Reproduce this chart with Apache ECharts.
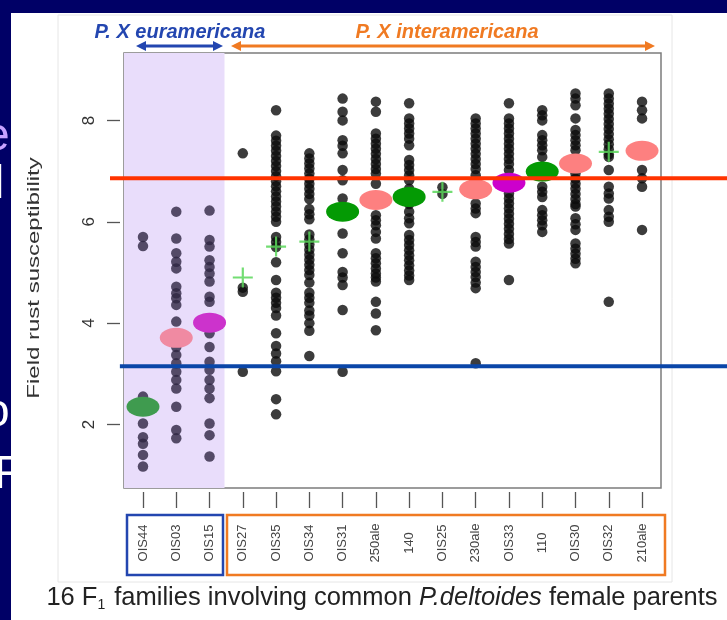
<!DOCTYPE html>
<html><head><meta charset="utf-8">
<script src="https://cdn.jsdelivr.net/npm/echarts@6/dist/echarts.min.js"></script>
<style>html,body{margin:0;padding:0;background:#000066}#c{width:727px;height:620px}</style>
</head><body><div id="c"></div><script>
// ---- data ----
const families = ['OIS44','OIS03','OIS15','OIS27','OIS35','OIS34','OIS31','250ale','140','OIS25','230ale','OIS33','110','OIS30','OIS32','210ale'];
const yTicks = [2, 4, 6, 8];
const scoresOIS44 = [5.70, 5.52, 2.55, 2.35, 2.02, 1.75, 1.62, 1.40, 1.17];
const scoresOIS03 = [6.20, 5.67, 5.38, 5.21, 5.08, 4.72, 4.59, 4.49, 4.36, 4.03, 3.71, 3.53, 3.37, 3.21, 3.04, 2.88, 2.71, 2.35, 1.89, 1.73];
const scoresOIS15 = [6.22, 5.64, 5.51, 5.24, 5.11, 4.98, 4.82, 4.52, 4.42, 4.01, 3.80, 3.53, 3.24, 3.08, 2.88, 2.71, 2.52, 2.02, 1.79, 1.37];
const scoresOIS27 = [7.35, 4.70, 4.62, 3.04];
const scoresOIS35 = [8.20, 7.70, 7.60, 7.50, 7.40, 7.30, 7.20, 7.10, 7.00, 6.90, 6.80, 6.70, 6.60, 6.50, 6.40, 6.30, 6.20, 6.10, 6.00, 5.70, 5.60, 5.50, 5.20, 4.85, 4.60, 4.50, 4.40, 4.30, 4.15, 3.80, 3.55, 3.40, 3.25, 3.05, 2.50, 2.20];
const scoresOIS34 = [7.35, 7.25, 7.15, 7.05, 6.95, 6.85, 6.75, 6.65, 6.55, 6.45, 6.25, 6.15, 6.05, 5.75, 5.65, 5.55, 5.45, 5.35, 5.25, 5.15, 5.05, 4.95, 4.80, 4.60, 4.50, 4.40, 4.25, 4.15, 4.00, 3.85, 3.35];
const scoresOIS31 = [8.43, 8.17, 8.00, 7.61, 7.50, 7.35, 7.02, 6.82, 6.46, 6.20, 5.77, 5.38, 5.01, 4.90, 4.75, 4.26, 3.04];
const scores250ale = [8.37, 8.17, 7.74, 7.64, 7.54, 7.44, 7.34, 7.24, 7.14, 7.04, 6.95, 6.75, 6.43, 6.13, 6.03, 5.93, 5.80, 5.67, 5.38, 5.28, 5.18, 5.08, 4.98, 4.90, 4.82, 4.42, 4.19, 3.86];
const scores140 = [8.34, 8.04, 7.94, 7.84, 7.74, 7.64, 7.51, 7.22, 7.12, 7.02, 6.92, 6.82, 6.65, 6.49, 6.35, 6.20, 6.07, 5.97, 5.74, 5.64, 5.54, 5.44, 5.34, 5.24, 5.14, 5.04, 4.94, 4.85];
const scoresOIS25 = [6.68, 6.55];
const scores230ale = [8.04, 7.94, 7.84, 7.74, 7.64, 7.54, 7.44, 7.34, 7.24, 7.14, 7.04, 6.92, 6.64, 6.36, 6.26, 6.17, 5.70, 5.60, 5.51, 5.21, 5.11, 5.01, 4.91, 4.80, 4.69, 3.21];
const scoresOIS33 = [8.34, 8.04, 7.94, 7.84, 7.74, 7.64, 7.54, 7.44, 7.34, 7.24, 7.14, 7.02, 6.77, 6.56, 6.46, 6.36, 6.26, 6.16, 6.06, 5.96, 5.86, 5.76, 5.66, 5.57, 4.85];
const scores110 = [8.20, 8.10, 8.00, 7.71, 7.61, 7.51, 7.41, 7.28, 6.99, 6.69, 6.59, 6.49, 6.23, 6.13, 6.03, 5.93, 5.80];
const scoresOIS30 = [8.53, 8.43, 8.30, 8.04, 7.81, 7.71, 7.61, 7.51, 7.41, 7.15, 6.95, 6.85, 6.75, 6.65, 6.55, 6.45, 6.35, 6.30, 6.07, 5.95, 5.84, 5.57, 5.47, 5.37, 5.27, 5.18];
const scoresOIS32 = [8.53, 8.43, 8.33, 8.23, 8.13, 8.03, 7.93, 7.83, 7.73, 7.63, 7.53, 7.43, 7.33, 7.28, 7.02, 6.69, 6.56, 6.46, 6.23, 6.10, 6.00, 4.42];
const scores210ale = [8.37, 8.20, 8.04, 7.02, 6.86, 6.69, 5.84];
const meanScores = [2.35, 3.71, 4.01, 4.90, 5.51, 5.61, 6.20, 6.43, 6.49, 6.59, 6.64, 6.77, 6.99, 7.15, 7.38, 7.40];
const meanMarks = ['greenA','pinkA','magentaA','plus','plus','plus','green','pink','green','plus','pink','magenta','green','pink','plus','pink'];
const highThreshold = 6.86;
const lowThreshold = 3.15;
const euramericanaCount = 3;

const allScores = [scoresOIS44, scoresOIS03, scoresOIS15, scoresOIS27, scoresOIS35, scoresOIS34, scoresOIS31, scores250ale,
  scores140, scoresOIS25, scores230ale, scoresOIS33, scores110, scoresOIS30, scoresOIS32, scores210ale];

// ---- build ----
const famIdx = families.map((f, i) => i + 1);
const dotsEur = [], dotsInt = [];
allScores.forEach((arr, i) => arr.forEach(v => (i < euramericanaCount ? dotsEur : dotsInt).push([i + 1, v])));
const markStyles = {
  greenA:   {symbol: 'circle', size: [33, 20], color: '#3f9b4f'},
  pinkA:    {symbol: 'circle', size: [33, 20], color: '#f08aa2'},
  magentaA: {symbol: 'circle', size: [33, 20], color: '#cc33cc'},
  green:    {symbol: 'circle', size: [33, 20], color: '#049a04'},
  pink:     {symbol: 'circle', size: [33, 20], color: '#fd8080'},
  magenta:  {symbol: 'circle', size: [33, 20], color: '#cc00cc'},
  plus:     {symbol: 'path://M4.45,0h1.1v10h-1.1z M0,4.45h10v1.1h-10z', size: [20, 20], color: 'rgba(90,215,90,0.85)'}
};
const meanSeries = Object.keys(markStyles).map(k => ({
  type: 'scatter', name: k, z: 5,
  symbol: markStyles[k].symbol, symbolSize: markStyles[k].size,
  itemStyle: {color: markStyles[k].color, opacity: 1},
  data: meanScores.map((v, i) => [i + 1, v]).filter((d, i) => meanMarks[i] === k),
  silent: true
}));

const FONT = 'Liberation Sans, Arial, sans-serif';
const yMin = 0.747, yMax = 9.33;

const option = {
  animation: false,
  backgroundColor: '#000066',
  grid: [
    {left: 124, top: 53, width: 537, height: 435, show: true, borderColor: '#7c7c7c', borderWidth: 1.5, backgroundColor: 'rgba(0,0,0,0)', z: 1},
    {left: 110, top: 53, width: 617, height: 435}
  ],
  xAxis: [
    {type: 'value', gridIndex: 0, min: 0.429, max: 16.57, offset: 4, position: 'bottom',
     axisLine: {show: false}, splitLine: {show: false},
     axisTick: {show: true, customValues: famIdx, length: 16, lineStyle: {color: '#555', width: 1.3}},
     axisLabel: {show: true, customValues: famIdx, formatter: v => families[Math.round(v) - 1],
       rotate: 90, align: 'center', verticalAlign: 'middle', margin: 51, fontSize: 13, color: '#444', fontFamily: FONT}},
    {type: 'value', gridIndex: 1, min: 0, max: 1, show: false}
  ],
  yAxis: [
    {type: 'value', gridIndex: 0, min: yMin, max: yMax, offset: 4,
     axisLine: {show: false}, splitLine: {show: false},
     axisTick: {show: true, customValues: yTicks, length: 13, lineStyle: {color: '#555', width: 1.3}},
     axisLabel: {show: true, customValues: yTicks, rotate: 90, align: 'center', verticalAlign: 'middle',
       margin: 31, fontSize: 17, color: '#333', fontFamily: FONT}},
    {type: 'value', gridIndex: 1, min: yMin, max: yMax, show: false}
  ],
  series: [
    {type: 'scatter', name: 'shade', z: 1, data: [], silent: true,
     markArea: {silent: true, itemStyle: {color: '#e9ddfb'},
       data: [[{xAxis: 0.429}, {xAxis: euramericanaCount + 0.45}]]}},
    {type: 'scatter', name: 'eur', z: 3, symbol: 'circle', symbolSize: 10.5, itemStyle: {color: '#2e2642'}, data: dotsEur, silent: true},
    {type: 'scatter', name: 'int', z: 3, symbol: 'circle', symbolSize: 10.5, itemStyle: {color: '#0b0b0b'}, data: dotsInt, silent: true},
    ...meanSeries,
    {type: 'line', xAxisIndex: 1, yAxisIndex: 1, z: 8, symbol: 'none', silent: true,
     lineStyle: {color: '#ff3300', width: 4}, data: [[0, highThreshold], [1, highThreshold]]},
    {type: 'line', xAxisIndex: 1, yAxisIndex: 1, z: 8, symbol: 'none', silent: true,
     lineStyle: {color: '#0a46a8', width: 4}, data: [[0.016, lowThreshold], [1, lowThreshold]]}
  ],
  graphic: [
    // slide text fragments behind the panel
    {type: 'text', z: -3, x: -16, y: 114, style: {text: 'e', fill: '#c7a3ff', font: '46px ' + FONT}},
    {type: 'text', z: -3, x: -6, y: 162, style: {text: 'l', fill: '#ffffff', font: '46px ' + FONT}},
    {type: 'text', z: -3, x: -16, y: 390, style: {text: 'o', fill: '#ffffff', font: '46px ' + FONT}},
    {type: 'text', z: -3, x: -6, y: 452, style: {text: 'F', fill: '#ffffff', font: '46px ' + FONT}},
    // white slide panel
    {type: 'rect', z: -2, shape: {x: 11, y: 13, width: 716, height: 607}, style: {fill: '#ffffff'}},
    {type: 'rect', z: -1, shape: {x: 58, y: 15, width: 614, height: 567}, style: {fill: 'none', stroke: '#e6e6e6', lineWidth: 1}},
    // group headers
    {type: 'text', z: 10, x: 180, y: 32, style: {text: 'P. X euramericana', fill: '#2346b0', font: 'italic bold 20px ' + FONT, align: 'center', verticalAlign: 'middle'}},
    {type: 'text', z: 10, x: 447, y: 32, style: {text: 'P. X interamericana', fill: '#f07a22', font: 'italic bold 20px ' + FONT, align: 'center', verticalAlign: 'middle'}},
    // arrows
    {type: 'line', z: 10, shape: {x1: 143, y1: 46, x2: 216, y2: 46}, style: {stroke: '#2346b0', lineWidth: 3}},
    {type: 'polygon', z: 10, shape: {points: [[136, 46], [146, 41], [146, 51]]}, style: {fill: '#2346b0'}},
    {type: 'polygon', z: 10, shape: {points: [[223, 46], [213, 41], [213, 51]]}, style: {fill: '#2346b0'}},
    {type: 'line', z: 10, shape: {x1: 238, y1: 46, x2: 648, y2: 46}, style: {stroke: '#f07a22', lineWidth: 3}},
    {type: 'polygon', z: 10, shape: {points: [[231, 46], [241, 41], [241, 51]]}, style: {fill: '#f07a22'}},
    {type: 'polygon', z: 10, shape: {points: [[655, 46], [645, 41], [645, 51]]}, style: {fill: '#f07a22'}},
    // label boxes
    {type: 'rect', z: 10, shape: {x: 127, y: 515, width: 96, height: 60}, style: {fill: 'none', stroke: '#2346b0', lineWidth: 2.5}},
    {type: 'rect', z: 10, shape: {x: 227, y: 515, width: 438, height: 60}, style: {fill: 'none', stroke: '#f07a22', lineWidth: 2.5}},
    // axis titles
    {type: 'text', z: 10, x: 35, y: 278, rotation: Math.PI / 2, scaleX: 1.5,
     style: {text: 'Field rust susceptibility', fill: '#333', font: '16px ' + FONT, align: 'center', verticalAlign: 'middle'}},
    {type: 'text', z: 10, x: 382, y: 598,
     style: {text: '16 F{sub|1} families involving common {it|P.deltoides} female parents', fill: '#222', font: '25.5px ' + FONT,
       align: 'center', verticalAlign: 'middle',
       rich: {sub: {fontSize: 14, fill: '#222', fontFamily: FONT, padding: [15, 2, 0, 0]},
              it: {fontStyle: 'italic', fontSize: 25.5, fill: '#222', fontFamily: FONT}}}}
  ]
};
const chart = echarts.init(document.getElementById('c'), null, {renderer: 'canvas'});
chart.setOption(option);
</script></body></html>
